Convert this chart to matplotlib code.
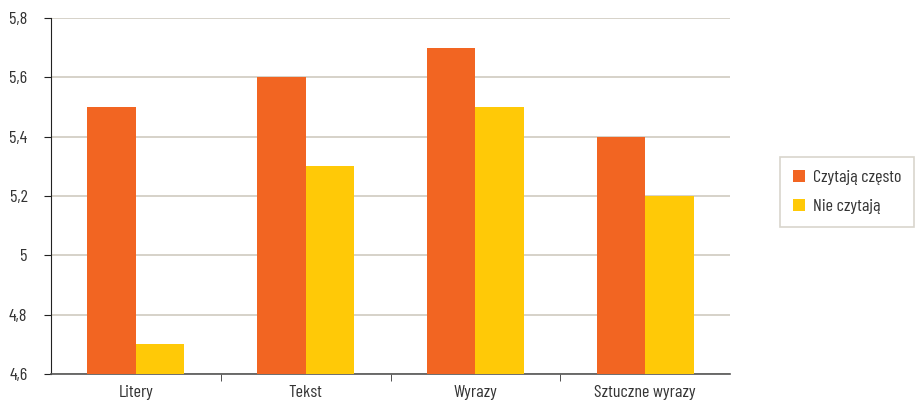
import matplotlib
matplotlib.use('Agg')
from matplotlib import pyplot as plt
import numpy as np

categories = ["Litery", "Tekst", "Wyrazy", "Sztuczne wyrazy"]
czytaja_czesto = [5.5, 5.6, 5.7, 5.4]
nie_czytaja = [4.7, 5.3, 5.5, 5.2]
yticks = [4.6, 4.8, 5.0, 5.2, 5.4, 5.6, 5.8]
ytick_labels = ["4,6", "4,8", "5", "5,2", "5,4", "5,6", "5,8"]

plt.rcParams['font.family'] = ['Barlow Condensed', 'DejaVu Sans']

fig = plt.figure(figsize=(9.16, 4.09), dpi=100)
ax = fig.add_axes([51/916, 1 - 374/409, (730 - 51)/916, (374 - 18)/409])

x = np.arange(len(categories))
w = 0.285
ax.bar(x - w/2, czytaja_czesto, w, color="#F26522", label="Czytają często", zorder=3)
ax.bar(x + w/2, nie_czytaja, w, color="#FFC907", label="Nie czytają", zorder=3)

ax.set_xlim(-0.5, len(categories) - 0.5)
ax.set_ylim(4.6, 5.8)
ax.set_yticks(yticks)
ax.set_yticklabels(ytick_labels, fontsize=13, color="#333333")
ax.set_xticks(x)
ax.set_xticklabels(categories, fontsize=13, color="#333333")
ax.tick_params(axis='x', length=0, pad=8)
# small separators between the category groups
ax.set_xticks(x[:-1] + 0.5, minor=True)
ax.tick_params(axis='x', which='minor', length=5, direction='out', color="#333333")
ax.tick_params(axis='y', length=5, direction='out', color="#222222", pad=12)

ax.grid(axis='y', color="#CFCBC0", linewidth=1.2, zorder=0)
for s in ["top", "right"]:
    ax.spines[s].set_visible(False)
ax.spines["left"].set_color("#222222")
ax.spines["bottom"].set_color("#555555")
ax.spines["bottom"].set_linewidth(1.2)

leg = fig.legend(loc="upper left", bbox_to_anchor=(780/916, 1 - 157/409),
                 frameon=True, fancybox=False, fontsize=13, handlelength=0.7,
                 handleheight=0.7, labelspacing=0.75, borderpad=0.7,
                 handletextpad=0.45, borderaxespad=0)
leg.get_frame().set_edgecolor("#CFCBC0")
leg.get_frame().set_linewidth(1.2)
for t in leg.get_texts():
    t.set_color("#333333")

fig.savefig("out.png", dpi=100)
